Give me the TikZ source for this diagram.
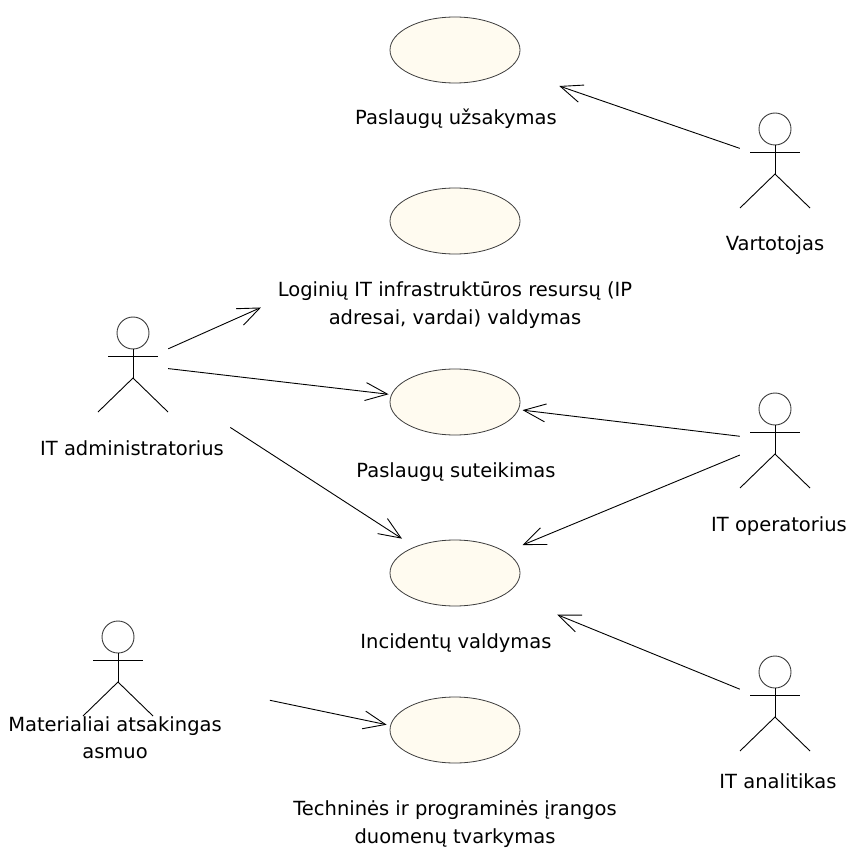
\documentclass[tikz,border=0pt]{standalone}
\usepackage{fontspec}
\setmainfont{DejaVu Sans}
\usetikzlibrary{shapes.geometric,arrows.meta,calc}

\definecolor{ucfill}{RGB}{255,251,240}
\definecolor{ucline}{RGB}{60,60,60}

\tikzset{
  actor/.style={draw=none, minimum width=70pt, minimum height=95pt, inner sep=0pt},
  usecase/.style={ellipse, draw=ucline, fill=ucfill, line width=0.8pt,
    minimum width=130pt, minimum height=66pt, inner sep=0pt},
  lbl/.style={anchor=base, inner sep=0pt, align=center,
    font=\fontsize{19.5}{28}\selectfont},
  fig/.style={line width=0.9pt, black},
  assoc/.style={line width=0.9pt, black,
    -{Straight Barb[length=22pt, width=18pt, line width=0.9pt]}},
}

% stick figure drawn around the centre of an actor node
\newcommand\umlactor[1]{%
  \begin{scope}[shift={(#1.center)}]
    \draw[fig, draw=ucline] (0,-31.5) circle[radius=16pt];
    \draw[fig] (0,-15.5) -- (0,13.5);
    \draw[fig] (-25,-8.5) -- (25,-8.5);
    \draw[fig] (-35,47.5) -- (0,13.5) -- (35,47.5);
  \end{scope}}

\begin{document}
\begin{tikzpicture}[x=1pt, y=-1pt]
  \useasboundingbox[fill=white] (0,0) rectangle (851,850);

  % use cases (base anchor of a label sits on its last line)
  \node[usecase] (uc1) at (455,50)  {};
  \node[usecase] (uc2) at (455,221) {};
  \node[usecase] (uc3) at (455,402) {};
  \node[usecase] (uc4) at (455,573) {};
  \node[usecase] (uc5) at (455,730) {};

  \node[lbl] (uc1l) at (456,125) {Paslaugų užsakymas};
  \node[lbl] (uc2l) at (455,324) {Loginių IT infrastruktūros resursų (IP\\adresai, vardai) valdymas};
  \node[lbl] (uc3l) at (456,477) {Paslaugų suteikimas};
  \node[lbl] (uc4l) at (456,648) {Incidentų valdymas};
  \node[lbl] (uc5l) at (455,843) {Techninės ir programinės įrangos\\duomenų tvarkymas};

  % actors
  \node[actor] (vart)  at (775,160.5) {};
  \node[actor] (admin) at (133,364.5) {};
  \node[actor] (oper)  at (775,440.5) {};
  \node[actor] (anal)  at (775,703.5) {};
  \node[actor] (mat)   at (118,668.5) {};
  \foreach \a in {vart,admin,oper,anal,mat} {\umlactor{\a}}

  \node[lbl] (vartl)  at (775,251) {Vartotojas};
  \node[lbl] (adminl) at (132,455) {IT administratorius};
  \node[lbl] (operl)  at (779,531) {IT operatorius};
  \node[lbl] (analll) at (778,788) {IT analitikas};
  \node[lbl, font=\fontsize{19.5}{27}\selectfont] (matl) at (115,758) {Materialiai atsakingas\\asmuo};

  % associations
  \draw[assoc, shorten >=53pt]  (vart)  -- (uc1);
  \draw[assoc, shorten >=158.5pt] (admin) -- (uc2);
  \draw[assoc, shorten >=2.7pt] (admin) -- (uc3);
  \draw[assoc, shorten <=74pt, shorten >=14.9pt] (admin) -- (uc4);
  \draw[assoc, shorten >=3.9pt] (oper)  -- (uc3);
  \draw[assoc, shorten >=18.1pt] (oper) -- (uc4);
  \draw[assoc, shorten >=55.2pt] (anal) -- (uc4);
  \draw[assoc, shorten <=119.2pt, shorten >=3.7pt] (mat) -- (uc5.176);
\end{tikzpicture}
\end{document}
